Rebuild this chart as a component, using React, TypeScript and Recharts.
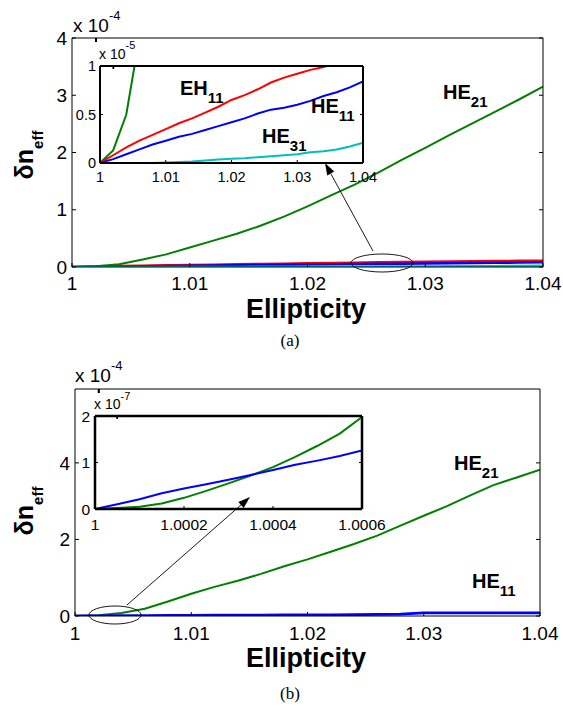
import { LineChart, Line, XAxis, YAxis, CartesianGrid } from 'recharts';

const FONT = '"Liberation Sans", Arial, Helvetica, sans-serif';
const SERIF = '"Liberation Serif", "Times New Roman", serif';

// ellipticity samples used by both main panels
const ellipticity = [1, 1.002, 1.004, 1.006, 1.008, 1.01, 1.012, 1.014, 1.016, 1.018, 1.02, 1.022, 1.024, 1.026, 1.028, 1.03, 1.032, 1.034, 1.036, 1.038, 1.04];
const mainTicks = [1, 1.01, 1.02, 1.03, 1.04];

// panel (a): HE21 in units of 1e-4
const he21A = [0, 0.013, 0.05, 0.13, 0.22, 0.34, 0.46, 0.58, 0.72, 0.88, 1.06, 1.25, 1.44, 1.65, 1.87, 2.08, 2.3, 2.51, 2.72, 2.93, 3.15];
// panel (a): small modes in units of 1e-5
const eh11A = [0, 0.08, 0.16, 0.23, 0.29, 0.35, 0.41, 0.46, 0.52, 0.58, 0.65, 0.7, 0.76, 0.83, 0.88, 0.92, 0.96, 0.99, 1.03, 1.07, 1.1];
const he11A = [0, 0.04, 0.09, 0.14, 0.19, 0.23, 0.27, 0.3, 0.34, 0.38, 0.42, 0.46, 0.51, 0.55, 0.57, 0.6, 0.64, 0.69, 0.73, 0.78, 0.84];
const he31A = [0, 0, 0, 0, 0, 0.005, 0.01, 0.015, 0.025, 0.035, 0.045, 0.05, 0.06, 0.07, 0.08, 0.09, 0.11, 0.12, 0.14, 0.17, 0.21];

// panel (b), units of 1e-4
const he21B = [0, 0.02, 0.08, 0.19, 0.38, 0.58, 0.76, 0.92, 1.1, 1.3, 1.48, 1.68, 1.88, 2.1, 2.36, 2.62, 2.87, 3.15, 3.42, 3.62, 3.82];
const he11B = [0, 0.005, 0.01, 0.012, 0.015, 0.018, 0.02, 0.022, 0.025, 0.027, 0.03, 0.032, 0.035, 0.04, 0.05, 0.08, 0.08, 0.08, 0.08, 0.08, 0.08];

// panel (b) inset, units of 1e-7
const ellipticityZoom = [1, 1.00005, 1.0001, 1.00015, 1.0002, 1.00025, 1.0003, 1.00035, 1.0004, 1.00045, 1.0005, 1.00055, 1.0006];
const zoomTicks = [1, 1.0002, 1.0004, 1.0006];
const he21Zoom = [0, 0.02, 0.05, 0.12, 0.24, 0.39, 0.55, 0.72, 0.9, 1.12, 1.36, 1.62, 1.98];
const he11Zoom = [0, 0.1, 0.21, 0.34, 0.44, 0.53, 0.63, 0.73, 0.84, 0.95, 1.04, 1.14, 1.26];

const topMain = ellipticity.map((x, i) => ({ x, he21: he21A[i], eh11: eh11A[i] / 10, he11: he11A[i] / 10, he31: he31A[i] / 10 }));
const topInset = ellipticity.map((x, i) => ({ x, he21: he21A[i] * 10, eh11: eh11A[i], he11: he11A[i], he31: he31A[i] }));
const botMain = ellipticity.map((x, i) => ({ x, he21: he21B[i], he11: he11B[i] }));
const botInset = ellipticityZoom.map((x, i) => ({ x, he21: he21Zoom[i], he11: he11Zoom[i] }));

const GREEN = '#008000';
const RED = '#ff0000';
const BLUE = '#0000ff';
const CYAN = '#00bfbf';

// matlab style ticks: label outside, short mark pointing into the plot
function BottomTick(p: any) {
  const { x, y, payload, fs, len, m } = p;
  return (
    <g>
      <line x1={x} x2={x} y1={y - m} y2={y - m - len} stroke="#000" strokeWidth={1} />
      <text x={x} y={y} dy="0.71em" textAnchor="middle" fontSize={fs} fontFamily={FONT} fill="#000">{payload.value}</text>
    </g>
  );
}

function LeftTick(p: any) {
  const { x, y, payload, fs, len, m } = p;
  return (
    <g>
      <line x1={x + m} x2={x + m + len} y1={y} y2={y} stroke="#000" strokeWidth={1} />
      <text x={x} y={y} dy="0.355em" textAnchor="end" fontSize={fs} fontFamily={FONT} fill="#000">{payload.value}</text>
    </g>
  );
}

function TopTick(p: any) {
  const { x, y, len } = p;
  return <line x1={x} x2={x} y1={y} y2={y + len} stroke="#000" strokeWidth={1} />;
}

function RightTick(p: any) {
  const { x, y, len } = p;
  return <line x1={x - len} x2={x} y1={y} y2={y} stroke="#000" strokeWidth={1} />;
}

type Frame = { xDomain: number[]; xTicks: number[]; yDomain: number[]; yTicks: number[]; sw: number; len: number; fs: number; mx: number; my: number };

function frameAxes(f: Frame) {
  const axisLine = { stroke: '#000', strokeWidth: f.sw };
  const base = { type: 'number' as const, allowDataOverflow: true, interval: 0 as const, tickLine: false, tickSize: 0, axisLine };
  return [
    <XAxis key="xb" dataKey="x" domain={f.xDomain} ticks={f.xTicks} height={30} tickMargin={f.mx}
      tick={<BottomTick fs={f.fs} len={f.len} m={f.mx} />} {...base} />,
    <YAxis key="yl" domain={f.yDomain} ticks={f.yTicks} width={40} tickMargin={f.my}
      tick={<LeftTick fs={f.fs} len={f.len} m={f.my} />} {...base} />,
    <XAxis key="xt" xAxisId="top" orientation="top" domain={f.xDomain} ticks={f.xTicks} height={1} tickMargin={0}
      tick={<TopTick len={f.len} />} {...base} />,
    <YAxis key="yr" yAxisId="right" orientation="right" domain={f.yDomain} ticks={f.yTicks} width={1} tickMargin={0}
      tick={<RightTick len={f.len} />} {...base} />,
  ];
}

function line(key: string, color: string, w = 2) {
  return <Line key={key} type="linear" dataKey={key} stroke={color} strokeWidth={w} dot={false} isAnimationActive={false} />;
}

function ModeLabel({ x, y, name, sub }: { x: number; y: number; name: string; sub: string }) {
  return (
    <text x={x} y={y} fontFamily={FONT} fontWeight="bold" fontSize={20} fill="#000">
      {name}
      <tspan fontSize={15} dy={8}>{sub}</tspan>
    </text>
  );
}

function Exponent({ x, y, size, sup, rise, exp }: { x: number; y: number; size: number; sup: number; rise: number; exp: string }) {
  return (
    <text x={x} y={y} fontFamily={FONT} fontSize={size} fill="#000">
      x 10<tspan fontSize={sup} dy={-rise}>{exp}</tspan>
    </text>
  );
}

function YLabel({ cy }: { cy: number }) {
  return (
    <text transform={`translate(33,${cy}) rotate(-90)`} textAnchor="middle" fontFamily={FONT} fontWeight="bold" fontSize={25} fill="#000">
      δn<tspan fontSize={15} dy={10}>eff</tspan>
    </text>
  );
}

function Arrow({ x1, y1, x2, y2 }: { x1: number; y1: number; x2: number; y2: number }) {
  const a = Math.atan2(y2 - y1, x2 - x1);
  const L = 12, W = 4;
  const bx = x2 - L * Math.cos(a), by = y2 - L * Math.sin(a);
  const p = `${x2},${y2} ${bx + W * Math.sin(a)},${by - W * Math.cos(a)} ${bx - W * Math.sin(a)},${by + W * Math.cos(a)}`;
  return (
    <g>
      <line x1={x1} y1={y1} x2={bx} y2={by} stroke="#000" strokeWidth={0.9} />
      <polygon points={p} fill="#000" />
    </g>
  );
}

const abs = (top: number): React.CSSProperties => ({ position: 'absolute', left: 0, top });

export default function App() {
  return (
    <div style={{ position: 'absolute', left: 0, top: 0, width: 563, height: 706, background: '#fff' }}>
      {/* panel (a) main: plot 72..543 x 38..267 */}
      <div style={abs(0)}>
        <LineChart width={563} height={353} data={topMain} margin={{ top: 37, right: 19, bottom: 56, left: 32 }}>
          {frameAxes({ xDomain: [1, 1.04], xTicks: mainTicks, yDomain: [0, 4], yTicks: [0, 1, 2, 3, 4], sw: 1, len: 4, fs: 19, mx: 10, my: 5 })}
          {line('he21', GREEN)}
          {line('eh11', RED, 2.5)}
          {line('he11', BLUE, 2.5)}
          {line('he31', CYAN, 2.5)}
        </LineChart>
      </div>
      {/* panel (a) inset: plot 100..363 x 66..163 */}
      <div style={abs(0)}>
        <LineChart width={563} height={353} data={topInset} margin={{ top: 65, right: 199, bottom: 160, left: 60 }}>
          <CartesianGrid fill="#fff" stroke="none" horizontal={false} vertical={false} />
          {frameAxes({ xDomain: [1, 1.04], xTicks: mainTicks, yDomain: [0, 1], yTicks: [0, 0.5, 1], sw: 2, len: 3, fs: 14.5, mx: 9, my: 4 })}
          {line('he21', GREEN)}
          {line('eh11', RED)}
          {line('he11', BLUE)}
          {line('he31', CYAN)}
        </LineChart>
      </div>
      {/* panel (b) main: plot 75..540 x 389..616 */}
      <div style={abs(353)}>
        <LineChart width={563} height={353} data={botMain} margin={{ top: 35, right: 22, bottom: 60, left: 35 }}>
          {frameAxes({ xDomain: [1, 1.04], xTicks: mainTicks, yDomain: [0, 5.93], yTicks: [0, 2, 4], sw: 1, len: 4, fs: 19, mx: 11, my: 5 })}
          {line('he21', GREEN)}
          {line('he11', BLUE, 2.8)}
        </LineChart>
      </div>
      {/* panel (b) inset: plot 95..362 x 416..509 */}
      <div style={abs(353)}>
        <LineChart width={563} height={353} data={botInset} margin={{ top: 62, right: 200, bottom: 167, left: 55 }}>
          <CartesianGrid fill="#fff" stroke="none" horizontal={false} vertical={false} />
          {frameAxes({ xDomain: [1, 1.0006], xTicks: zoomTicks, yDomain: [0, 2], yTicks: [0, 1, 2], sw: 2.5, len: 3, fs: 15.5, mx: 10, my: 5 })}
          {line('he21', GREEN)}
          {line('he11', BLUE)}
        </LineChart>
      </div>
      {/* annotations */}
      <svg width={563} height={706} style={{ position: 'absolute', left: 0, top: 0, pointerEvents: 'none' }}>
        <Exponent x={73} y={32} size={19} sup={13} rise={12} exp="-4" />
        <Exponent x={99} y={59} size={14} sup={11} rise={10} exp="-5" />
        <Exponent x={75} y={382} size={19} sup={13} rise={12} exp="-4" />
        <Exponent x={94} y={409} size={14} sup={11} rise={9} exp="-7" />

        <YLabel cy={155} />
        <YLabel cy={511} />
        <text x={306} y={318} textAnchor="middle" fontFamily={FONT} fontWeight="bold" fontSize={27} fill="#000">Ellipticity</text>
        <text x={306} y={667} textAnchor="middle" fontFamily={FONT} fontWeight="bold" fontSize={27} fill="#000">Ellipticity</text>
        <text x={290} y={346} textAnchor="middle" fontFamily={SERIF} fontSize={17} fill="#000">(a)</text>
        <text x={290} y={699} textAnchor="middle" fontFamily={SERIF} fontSize={17} fill="#000">(b)</text>

        <ModeLabel x={180} y={95} name="EH" sub="11" />
        <ModeLabel x={311} y={113} name="HE" sub="11" />
        <ModeLabel x={262} y={143} name="HE" sub="31" />
        <ModeLabel x={443} y={99} name="HE" sub="21" />
        <ModeLabel x={454} y={470} name="HE" sub="21" />
        <ModeLabel x={472} y={588} name="HE" sub="11" />

        <ellipse cx={382} cy={263} rx={31} ry={9} fill="none" stroke="#000" strokeWidth={0.9} />
        <Arrow x1={373} y1={251} x2={325} y2={163} />
        <ellipse cx={115} cy={615} rx={26} ry={9} fill="none" stroke="#000" strokeWidth={0.9} />
        <Arrow x1={127} y1={605} x2={250} y2={497} />
      </svg>
    </div>
  );
}
